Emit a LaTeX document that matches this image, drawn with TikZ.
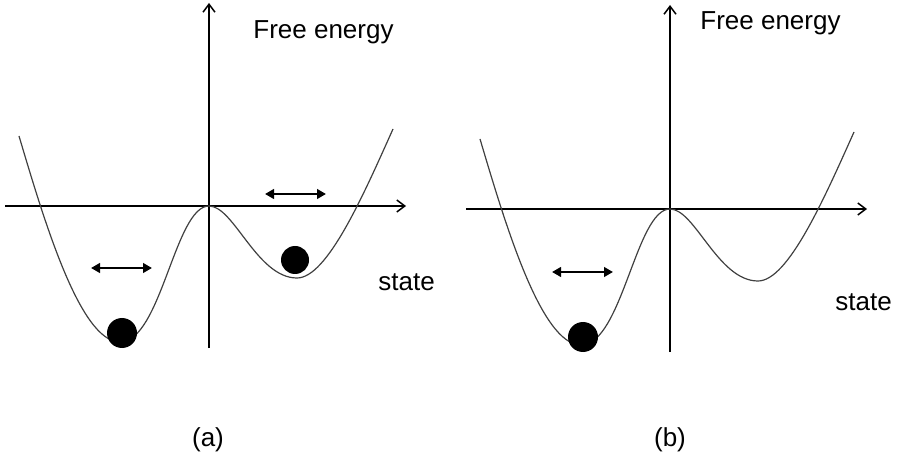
\documentclass[tikz,border=0pt]{standalone}
\usepackage{fontspec}
\setmainfont{Liberation Sans}
\usetikzlibrary{arrows.meta}

\begin{document}
\begin{tikzpicture}[
  x=0.5pt, y=0.5pt,
  axis/.style={line width=0.75pt, -{Straight Barb[length=4pt,width=6pt]}},
  curve/.style={line width=0.6pt, black!75},
  shake/.style={line width=1.35pt, {Triangle[length=4.5pt,width=4.8pt]}-{Triangle[length=4.5pt,width=4.8pt]}},
  ball/.style={circle, fill=black, minimum size=15pt, inner sep=0pt},
  lbl/.style={font=\fontsize{13}{15}\selectfont, inner sep=0pt},
  well/.pic={
    \draw[curve] (-190,70) .. controls (-165,-14) and (-129,-136) .. (-89,-136)
      .. controls (-48,-136) and (-34,0) .. (0,0)
      .. controls (25,0) and (48,-72) .. (88,-72)
      .. controls (118,-72) and (154,10) .. (184,77);
  }
]
\useasboundingbox (0,0) rectangle (898,471);

% (a) ball trapped in the shallow well
\begin{scope}[shift={(209,265)}]
  \coordinate (ax0) at (-204,0);
  \coordinate (ax1) at (197,0);
  \coordinate (ay0) at (0,-142);
  \coordinate (ay1) at (0,203);
  \draw[axis] (ax0) -- (ax1);
  \draw[axis] (ay0) -- (ay1);
  \pic at (0,0) {well};
  \node[ball] (ballL) at (-87,-127) {};
  \node[ball, minimum size=14pt] (ballR) at (86,-54) {};
  \coordinate (sL0) at (-118,-62);
  \coordinate (sL1) at (-57,-62);
  \coordinate (sR0) at (56,12);
  \coordinate (sR1) at (117,12);
  \draw[shake] (sL0) -- (sL1);
  \draw[shake] (sR0) -- (sR1);
  \node[lbl, anchor=west] (fe) at (44,174) {Free energy};
  \node[lbl, anchor=west] (st) at (169,-76) {state};
\end{scope}
\node[lbl] (capa) at (208,31) {(a)};

% (b) only the deep well is occupied
\begin{scope}[shift={(670,262)}]
  \coordinate (bx0) at (-204,0);
  \coordinate (bx1) at (197,0);
  \coordinate (by0) at (0,-143);
  \coordinate (by1) at (0,204);
  \draw[axis] (bx0) -- (bx1);
  \draw[axis] (by0) -- (by1);
  \pic at (0,0) {well};
  \node[ball] (ballB) at (-87,-128) {};
  \coordinate (sB0) at (-118,-63);
  \coordinate (sB1) at (-57,-63);
  \draw[shake] (sB0) -- (sB1);
  \node[lbl, anchor=west] (feb) at (30,186) {Free energy};
  \node[lbl, anchor=west] (stb) at (165,-93) {state};
\end{scope}
\node[lbl] (capb) at (670,31) {(b)};
\end{tikzpicture}
\end{document}
